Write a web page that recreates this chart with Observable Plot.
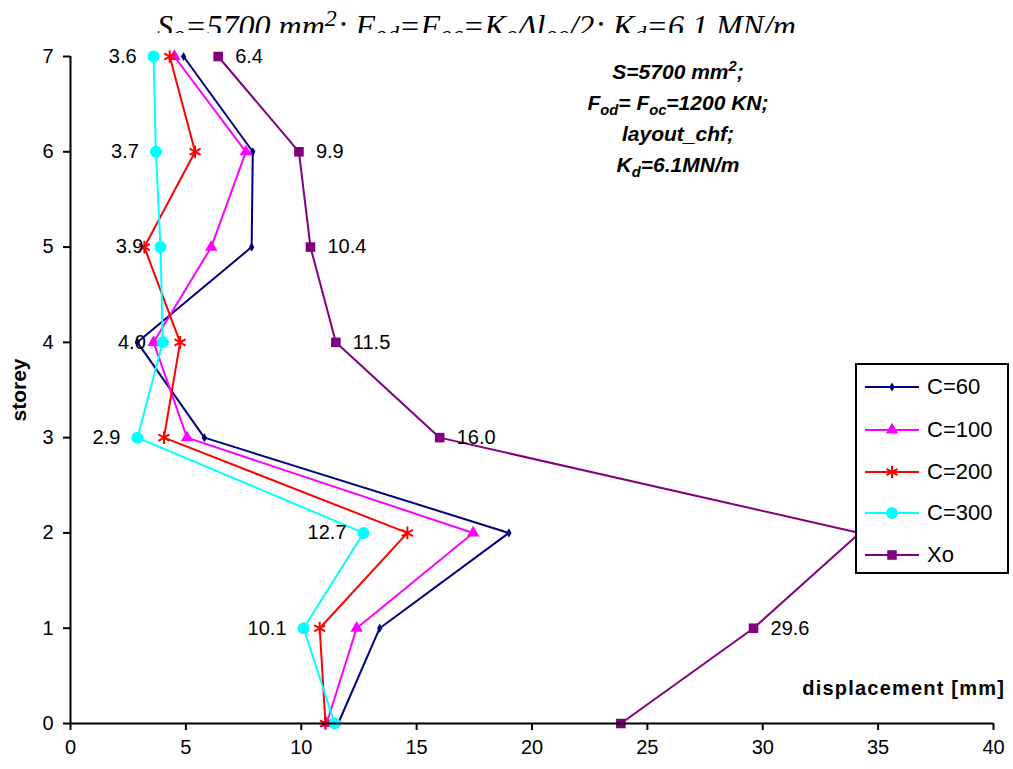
<!DOCTYPE html>
<html>
<head>
<meta charset="utf-8">
<script src="https://cdn.jsdelivr.net/npm/d3@7"></script>
<script src="https://cdn.jsdelivr.net/npm/@observablehq/plot@0.6"></script>
<style>
  body { margin: 0; background: #fff; font-family: "Liberation Sans", Arial, sans-serif; }
  #wrap { position: relative; width: 1013px; height: 769px; overflow: hidden; background: #fff; }
  #title { position: relative; width: 1013px; height: 33px; overflow: hidden; }
  #title .t { position: absolute; left: 157px; top: 10px; font: italic 32px "Liberation Serif", "Times New Roman", serif; line-height: 1; white-space: nowrap; color: #000; }
  #title .sb { font-size: 0.75em; position: relative; top: 0.22em; }
  #title .sp { font-size: 0.75em; position: relative; top: -0.45em; }
  #chart svg { display: block; }
  .note { position: absolute; left: 560px; width: 236px; text-align: center; font: italic bold 21px "Liberation Sans", Arial, sans-serif; color: #000; white-space: nowrap; line-height: 24px; }
  .note sub, .note sup { font-size: 0.7em; line-height: 0; }
  #xlabel { position: absolute; right: 8px; top: 677px; font: bold 20px "Liberation Sans", Arial, sans-serif; letter-spacing: 1.2px; color: #000; }
  #ylabel { position: absolute; left: 19px; top: 390px; transform: translate(-50%, -50%) rotate(-90deg); font: bold 21px "Liberation Sans", Arial, sans-serif; color: #000; }
  #legend { position: absolute; left: 855px; top: 363px; width: 150px; height: 207px; border: 2px solid #000; background: #fff; box-sizing: content-box; }
  #legend .row { position: absolute; left: 0; height: 30px; display: flex; align-items: center; }
  #legend .row span { font: 22px "Liberation Sans", Arial, sans-serif; color: #000; margin-left: 0px; }
</style>
</head>
<body>
<div id="wrap">
  <div id="title"><div class="t">S<span class="sb">o</span>=5700 mm<span class="sp">2</span>; F<span class="sb">od</span>=F<span class="sb">oc</span>=K<span class="sb">o</span>Δl<span class="sb">oo</span>/2; K<span class="sb">d</span>=6.1 MN/m</div></div>
  <div id="chart"></div>
  <div class="note" style="top:60px">S=5700 mm<sup>2</sup>;</div>
  <div class="note" style="top:91px">F<sub>od</sub>= F<sub>oc</sub>=1200 KN;</div>
  <div class="note" style="top:122px">layout_chf;</div>
  <div class="note" style="top:153px">K<sub>d</sub>=6.1MN/m</div>
  <div id="xlabel">displacement [mm]</div>
  <div id="ylabel">storey</div>
  <div id="legend"></div>
</div>
<script>
// ---- data ----
const storeys = [0, 1, 2, 3, 4, 5, 6, 7];
const c60  = [11.6, 13.4, 19.0, 5.8, 2.9, 7.85, 7.9, 4.9];
const c100 = [11.1, 12.4, 17.45, 5.05, 3.6, 6.1, 7.6, 4.5];
const c200 = [11.05, 10.8, 14.6, 4.05, 4.75, 3.2, 5.4, 4.3];
const c300 = [11.45, 10.1, 12.7, 2.9, 4.0, 3.9, 3.7, 3.6];
const xo   = [23.85, 29.6, 34.2, 16.0, 11.5, 10.4, 9.9, 6.4];
const seriesNames = ["C=60", "C=100", "C=200", "C=300", "Xo"];
const xTicks = [0, 5, 10, 15, 20, 25, 30, 35, 40];
const yTicks = [0, 1, 2, 3, 4, 5, 6, 7];
const c300LabelStoreys = [1, 2, 3, 4, 5, 6, 7];
const xoLabelStoreys = [1, 3, 4, 5, 6, 7];

// ---- styles ----
const styles = {
  "C=60":  {color: "#000080", symbol: "diamond", r: 2.8, fill: true},
  "C=100": {color: "#FF00FF", symbol: "triangle", r: 4.6, fill: true},
  "C=200": {color: "#FF0000", symbol: "asterisk", r: 6, fill: false},
  "C=300": {color: "#00FFFF", symbol: "circle", r: 6, fill: true},
  "Xo":    {color: "#800080", symbol: "square", r: 5.4, fill: true}
};
const seriesValues = [c60, c100, c200, c300, xo];

const rows = storeys.map((s, i) => ({storey: s, c60: c60[i], c100: c100[i], c200: c200[i], c300: c300[i], xo: xo[i]}));

const marks = [];
seriesNames.forEach((name, k) => {
  const st = styles[name];
  const data = storeys.map((s, i) => ({storey: s, v: seriesValues[k][i]}));
  marks.push(Plot.line(data, {x: "v", y: "storey", stroke: st.color, strokeWidth: 2}));
  marks.push(Plot.dot(data, st.fill
    ? {x: "v", y: "storey", symbol: st.symbol, r: st.r, fill: st.color, stroke: "none"}
    : {x: "v", y: "storey", symbol: st.symbol, r: st.r, stroke: st.color, strokeWidth: 2}));
});
marks.push(Plot.text(rows.filter(d => c300LabelStoreys.includes(d.storey)), {
  x: "c300", y: "storey", text: d => d.c300.toFixed(1), textAnchor: "end", dx: -17, fontSize: 20, fill: "#000"
}));
marks.push(Plot.text(rows.filter(d => xoLabelStoreys.includes(d.storey)), {
  x: "xo", y: "storey", text: d => d.xo.toFixed(1), textAnchor: "start", dx: 17, fontSize: 20, fill: "#000"
}));
marks.push(Plot.ruleY([0], {stroke: "#000", strokeWidth: 2}));
marks.push(Plot.ruleX([0], {stroke: "#000", strokeWidth: 2}));
marks.push(Plot.axisX({ticks: xTicks, tickFormat: "d", tickSize: 7, tickPadding: 9, strokeWidth: 2, fontSize: 20, label: null}));
marks.push(Plot.axisY({ticks: yTicks, tickFormat: "d", tickSize: 7, tickPadding: 10, strokeWidth: 2, fontSize: 20, label: null}));

const chart = Plot.plot({
  width: 1013,
  height: 736,
  marginLeft: 70,
  marginRight: 20,
  marginTop: 23,
  marginBottom: 46,
  style: {fontFamily: "'Liberation Sans', Arial, sans-serif", color: "#000", background: "transparent", overflow: "visible"},
  x: {domain: [0, 40]},
  y: {domain: [0, 7]},
  marks
});
document.getElementById("chart").appendChild(chart);

// ---- legend ----
const legend = document.getElementById("legend");
const rowTops = [7, 50, 92, 133, 175];
seriesNames.forEach((name, k) => {
  const st = styles[name];
  const row = document.createElement("div");
  row.className = "row";
  row.style.top = rowTops[k] + "px";
  const svg = d3.create("svg").attr("width", 70).attr("height", 30);
  svg.append("line").attr("x1", 8).attr("x2", 62).attr("y1", 15).attr("y2", 15)
    .attr("stroke", st.color).attr("stroke-width", 2);
  const symMap = {diamond: d3.symbolDiamond, triangle: d3.symbolTriangle, asterisk: d3.symbolAsterisk, circle: d3.symbolCircle, square: d3.symbolSquare};
  const path = d3.symbol(symMap[st.symbol], Math.PI * st.r * st.r)();
  svg.append("path").attr("d", path).attr("transform", "translate(35,15)")
    .attr("fill", st.fill ? st.color : "none")
    .attr("stroke", st.fill ? "none" : st.color)
    .attr("stroke-width", 2);
  row.appendChild(svg.node());
  const label = document.createElement("span");
  label.textContent = name;
  row.appendChild(label);
  legend.appendChild(row);
});
</script>
</body>
</html>
